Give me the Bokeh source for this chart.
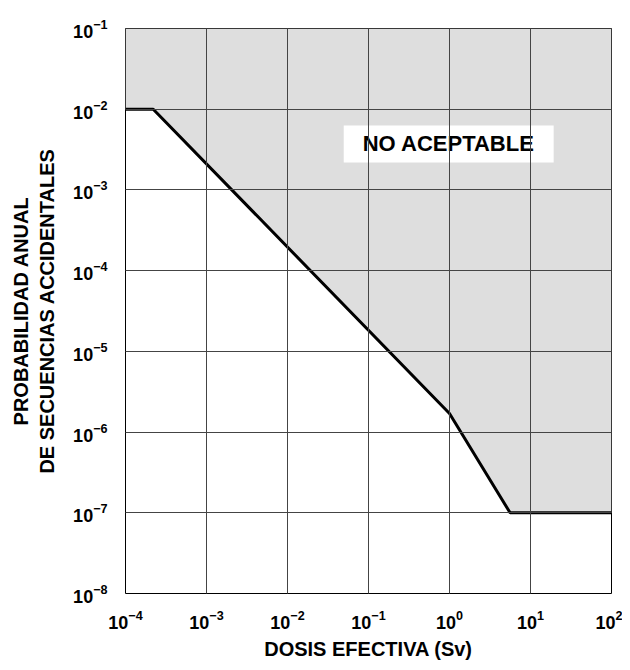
from bokeh.plotting import figure
from bokeh.models import Label, FixedTicker
from bokeh.embed import file_html
from bokeh.resources import INLINE

# data
dose = [1e-4, 2.2e-4, 1.0, 5.6, 1e2]
prob = [1e-2, 1e-2, 1.7e-6, 1e-7, 1e-7]
x_ticks = [1e-4, 1e-3, 1e-2, 1e-1, 1e0, 1e1, 1e2]
y_ticks = [1e-8, 1e-7, 1e-6, 1e-5, 1e-4, 1e-3, 1e-2, 1e-1]
x_label = "DOSIS EFECTIVA (Sv)"
y_label = "PROBABILIDAD ANUAL\nDE SECUENCIAS ACCIDENTALES"
region_label = "NO ACEPTABLE"

FONT = "Liberation Sans"

p = figure(width=622, height=662, x_axis_type="log", y_axis_type="log",
           x_range=(x_ticks[0], x_ticks[-1]), y_range=(y_ticks[0], y_ticks[-1]),
           output_backend="svg", toolbar_location=None,
           min_border_left=125, min_border_right=11, min_border_top=28, min_border_bottom=67)
p.background_fill_color = "white"
p.border_fill_color = "white"
p.outline_line_color = "black"
p.outline_line_width = 1

# grey unacceptable region
px = dose + [x_ticks[-1], x_ticks[0]]
py = prob + [y_ticks[-1], y_ticks[-1]]
p.patch(px, py, fill_color="#dedede", line_color=None)

p.xgrid.ticker = FixedTicker(ticks=x_ticks)
p.ygrid.ticker = FixedTicker(ticks=y_ticks)
for g in (p.xgrid, p.ygrid):
    g.grid_line_color = "#444444"
    g.grid_line_width = 1
    g.grid_line_alpha = 1
    g.level = "overlay"

p.line(dose, prob, line_color="black", line_width=3)

for ax, ticks in ((p.xaxis, x_ticks), (p.yaxis, y_ticks)):
    ax.ticker = FixedTicker(ticks=ticks)
    ax.major_tick_line_color = None
    ax.minor_tick_line_color = None
    ax.axis_line_color = None
    ax.major_label_text_font = FONT
    ax.major_label_text_font_style = "bold"
    ax.major_label_text_font_size = "18px"
    ax.major_label_text_color = "black"
    ax.axis_label_text_font = FONT
    ax.axis_label_text_font_style = "bold"
    ax.axis_label_text_font_size = "20px"
    ax.axis_label_text_color = "black"

p.xaxis.axis_label = x_label
p.yaxis.axis_label = y_label
p.xaxis.major_label_standoff = 10
p.xaxis.axis_label_standoff = 6
p.yaxis.major_label_standoff = 12
p.yaxis.axis_label_standoff = 12

p.add_layout(Label(x=10 ** -0.01, y=10 ** -2.43, text=region_label, text_font=FONT,
                   text_font_style="bold", text_font_size="22px", text_color="black",
                   text_align="center", text_baseline="middle",
                   background_fill_color="white", border_line_color=None,
                   padding=(19, 6)))

open("out.html", "w").write(file_html(p, INLINE))
